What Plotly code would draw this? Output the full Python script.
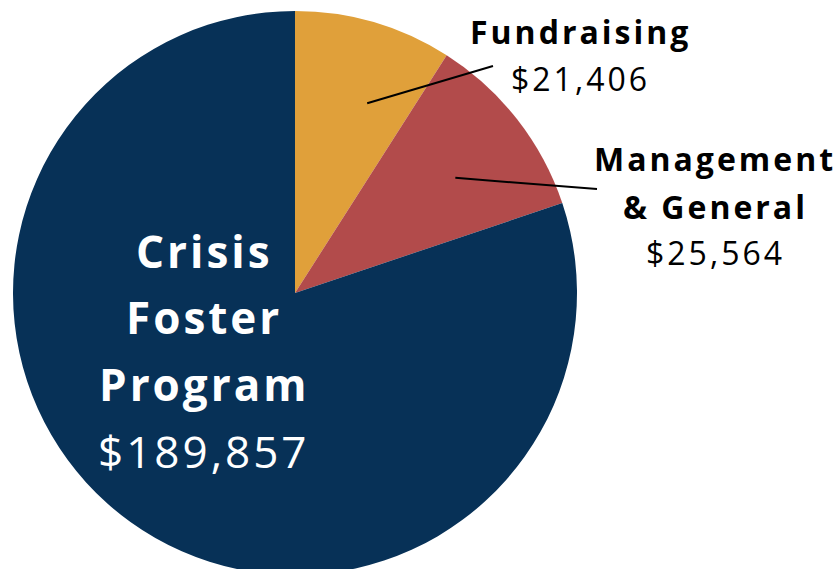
import plotly.graph_objects as go
import math

# ---- data ----
categories = ["Fundraising", "Management & General", "Crisis Foster Program"]
values = [21406, 25564, 189857]
colors = ["#E0A03A", "#B24B4B", "#073157"]
label_lines = [["Fundraising"], ["Management", "& General"], ["Crisis", "Foster", "Program"]]
value_labels = ["$21,406", "$25,564", "$189,857"]

# ---- layout constants (pixels) ----
W, H = 838, 575          # figure slightly taller than the 569 px window: pie runs off the bottom
CX, CY, R = 295, 293, 282

fig = go.Figure(go.Pie(
    labels=categories, values=values,
    marker=dict(colors=colors, line=dict(width=0)),
    sort=False, direction="clockwise", rotation=0,
    textinfo="none", hoverinfo="label+value",
    domain=dict(x=[(CX - R) / W, (CX + R) / W],
                y=[max(0, (H - CY - R) / H), min(1, (H - CY + R) / H)]),
    showlegend=False,
))

def px(x):
    return x / W

def py(y):
    return 1 - y / H

annotations = []
# label placement: (x center, list of y centers for each line), font size, colour
place = [
    (580, [31, 78], 32, "black"),
    (715, [158, 206, 253], 32, "black"),
    (204, [251, 317, 384, 451], 44, "white"),
]
for lines, val, (xc, ys, fs, col) in zip(label_lines, value_labels, place):
    texts = lines + [val]
    for i, (t, yc) in enumerate(zip(texts, ys)):
        bold = i < len(lines)
        annotations.append(dict(
            x=px(xc), y=py(yc), xref="paper", yref="paper",
            text='<span style="letter-spacing:3px">' + t + '</span>',
            showarrow=False, xanchor="center", yanchor="middle",
            font=dict(family="Open Sans", size=fs, color=col, weight=700 if bold else 400),
        ))

# leader lines: inner point from slice angle, outer point near the label
total = sum(values)
leaders = [  # (slice index, angle fraction within slice, radius fraction, outer x, outer y)
    (0, 0.64, 0.72, 493, 66),
    (1, 0.56, 0.70, 597, 189),
]
shapes = []
for idx, af, rf, ox, oy in leaders:
    start = sum(values[:idx]) / total * 360
    span = values[idx] / total * 360
    ang = math.radians(start + af * span)
    ix = CX + rf * R * math.sin(ang)
    iy = CY - rf * R * math.cos(ang)
    shapes.append(dict(type="line", xref="paper", yref="paper",
                       x0=px(ix), y0=py(iy), x1=px(ox), y1=py(oy),
                       line=dict(color="black", width=2)))

fig.update_layout(
    width=W, height=H,
    margin=dict(l=0, r=0, t=0, b=0),
    paper_bgcolor="white", plot_bgcolor="white",
    annotations=annotations, shapes=shapes,
)
fig.write_html(
    "out.html", config={"displayModeBar": False},
    post_script=("document.documentElement.style.overflow='hidden';"
                 "document.body.style.overflow='hidden';"
                 "document.body.style.margin='0';document.body.style.padding='0';"),
)
